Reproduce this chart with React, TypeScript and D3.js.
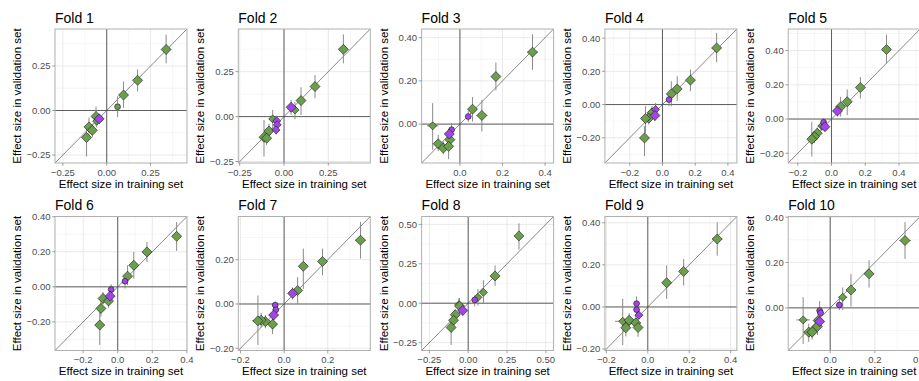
import React from 'react';
import * as d3 from 'd3';

// [training effect, validation effect, validation CI low, validation CI high, training CI half-width, group, shape]
type Pt = [number, number, number, number, number, 'g' | 'p', 'D' | 'd' | 'c'];

const fold1: Pt[] = [
  [0.339, 0.343, 0.265, 0.426, 0.025, 'g', 'D'],
  [0.176, 0.170, 0.107, 0.231, 0.02, 'g', 'D'],
  [0.096, 0.087, 0.015, 0.163, 0.02, 'g', 'D'],
  [0.062, 0.021, -0.038, 0.080, 0.015, 'g', 'c'],
  [-0.061, -0.033, -0.085, 0.022, 0.02, 'g', 'D'],
  [-0.057, -0.060, -0.095, -0.025, 0.02, 'g', 'd'],
  [-0.043, -0.047, -0.075, -0.018, 0.02, 'p', 'D'],
  [-0.101, -0.092, -0.135, -0.040, 0.02, 'g', 'D'],
  [-0.082, -0.111, -0.150, -0.075, 0.02, 'g', 'D'],
  [-0.115, -0.152, -0.258, -0.098, 0.02, 'g', 'D'],
];

const fold2: Pt[] = [
  [0.335, 0.374, 0.296, 0.457, 0.025, 'g', 'D'],
  [0.175, 0.167, 0.102, 0.231, 0.02, 'g', 'D'],
  [0.096, 0.089, 0.009, 0.163, 0.02, 'g', 'D'],
  [0.062, 0.037, -0.015, 0.080, 0.02, 'g', 'd'],
  [0.040, 0.052, 0.009, 0.093, 0.02, 'p', 'D'],
  [-0.064, -0.013, -0.074, 0.037, 0.02, 'g', 'd'],
  [-0.041, -0.024, -0.055, 0.005, 0.02, 'p', 'd'],
  [-0.038, -0.046, -0.075, -0.015, 0.02, 'p', 'd'],
  [-0.045, -0.074, -0.100, -0.045, 0.02, 'p', 'd'],
  [-0.085, -0.080, -0.120, -0.040, 0.02, 'g', 'D'],
  [-0.113, -0.115, -0.222, -0.019, 0.02, 'g', 'D'],
  [-0.098, -0.120, -0.160, -0.080, 0.02, 'g', 'D'],
];

const fold3: Pt[] = [
  [0.341, 0.333, 0.251, 0.416, 0.025, 'g', 'D'],
  [0.169, 0.220, 0.156, 0.285, 0.02, 'g', 'D'],
  [0.059, 0.069, 0.012, 0.125, 0.02, 'g', 'D'],
  [0.103, 0.040, -0.034, 0.112, 0.026, 'g', 'D'],
  [0.039, 0.035, 0.010, 0.060, 0.015, 'p', 'c'],
  [-0.128, -0.008, -0.119, 0.097, 0.027, 'g', 'd'],
  [-0.039, -0.026, -0.050, 0.005, 0.015, 'p', 'c'],
  [-0.050, -0.046, -0.070, -0.020, 0.02, 'p', 'D'],
  [-0.047, -0.072, -0.100, -0.040, 0.02, 'g', 'D'],
  [-0.102, -0.091, -0.125, -0.050, 0.02, 'g', 'D'],
  [-0.078, -0.111, -0.140, -0.080, 0.02, 'g', 'D'],
  [-0.053, -0.103, -0.162, -0.057, 0.02, 'g', 'D'],
];

const fold4: Pt[] = [
  [0.331, 0.341, 0.255, 0.432, 0.025, 'g', 'D'],
  [0.171, 0.147, 0.080, 0.211, 0.02, 'g', 'D'],
  [0.090, 0.094, 0.020, 0.171, 0.02, 'g', 'D'],
  [0.054, 0.064, -0.010, 0.140, 0.02, 'g', 'D'],
  [0.040, 0.030, -0.010, 0.060, 0.015, 'p', 'c'],
  [-0.042, -0.030, -0.070, 0.010, 0.02, 'p', 'd'],
  [-0.046, -0.066, -0.100, -0.040, 0.02, 'p', 'D'],
  [-0.064, -0.050, -0.090, -0.010, 0.02, 'g', 'D'],
  [-0.084, -0.082, -0.120, -0.040, 0.02, 'g', 'D'],
  [-0.104, -0.084, -0.171, -0.010, 0.02, 'g', 'D'],
  [-0.110, -0.201, -0.311, -0.131, 0.02, 'g', 'D'],
];

const fold5: Pt[] = [
  [0.326, 0.406, 0.324, 0.493, 0.025, 'g', 'D'],
  [0.171, 0.184, 0.120, 0.245, 0.02, 'g', 'D'],
  [0.093, 0.101, 0.023, 0.173, 0.02, 'g', 'D'],
  [0.054, 0.072, 0.014, 0.130, 0.02, 'g', 'D'],
  [0.035, 0.047, 0.014, 0.082, 0.02, 'p', 'D'],
  [-0.047, -0.019, -0.040, 0.005, 0.015, 'p', 'c'],
  [-0.039, -0.045, -0.070, -0.020, 0.02, 'p', 'D'],
  [-0.058, -0.041, -0.070, -0.010, 0.02, 'g', 'd'],
  [-0.085, -0.083, -0.120, -0.050, 0.02, 'g', 'D'],
  [-0.101, -0.103, -0.140, -0.070, 0.02, 'g', 'D'],
  [-0.117, -0.118, -0.219, -0.016, 0.02, 'g', 'D'],
];

const fold6: Pt[] = [
  [0.341, 0.288, 0.205, 0.369, 0.025, 'g', 'D'],
  [0.169, 0.199, 0.142, 0.256, 0.02, 'g', 'D'],
  [0.093, 0.123, 0.047, 0.199, 0.02, 'g', 'D'],
  [0.057, 0.061, 0.009, 0.123, 0.02, 'g', 'D'],
  [0.042, 0.032, -0.010, 0.066, 0.015, 'p', 'c'],
  [-0.038, -0.015, -0.040, 0.015, 0.015, 'p', 'c'],
  [-0.044, -0.053, -0.080, -0.020, 0.02, 'p', 'D'],
  [-0.085, -0.066, -0.100, -0.030, 0.02, 'g', 'D'],
  [-0.053, -0.081, -0.120, -0.040, 0.02, 'g', 'D'],
  [-0.097, -0.123, -0.170, -0.070, 0.02, 'g', 'D'],
  [-0.104, -0.218, -0.331, -0.142, 0.028, 'g', 'D'],
];

const fold7: Pt[] = [
  [0.350, 0.288, 0.205, 0.371, 0.025, 'g', 'D'],
  [0.176, 0.192, 0.129, 0.250, 0.02, 'g', 'D'],
  [0.088, 0.170, 0.068, 0.250, 0.02, 'g', 'D'],
  [0.062, 0.061, 0.000, 0.121, 0.02, 'g', 'D'],
  [0.039, 0.048, 0.020, 0.075, 0.02, 'p', 'D'],
  [-0.041, -0.005, -0.020, 0.010, 0.015, 'p', 'c'],
  [-0.038, -0.026, -0.045, -0.005, 0.015, 'p', 'c'],
  [-0.048, -0.050, -0.075, -0.025, 0.02, 'p', 'D'],
  [-0.053, -0.091, -0.136, -0.045, 0.02, 'g', 'D'],
  [-0.086, -0.079, -0.110, -0.050, 0.02, 'g', 'D'],
  [-0.105, -0.073, -0.105, -0.040, 0.02, 'g', 'D'],
  [-0.120, -0.076, -0.185, 0.038, 0.027, 'g', 'D'],
];

const fold8: Pt[] = [
  [0.327, 0.427, 0.340, 0.506, 0.025, 'g', 'D'],
  [0.173, 0.173, 0.110, 0.240, 0.02, 'g', 'D'],
  [0.098, 0.069, -0.004, 0.146, 0.02, 'g', 'd'],
  [0.063, 0.037, -0.015, 0.090, 0.02, 'g', 'd'],
  [0.042, 0.021, -0.020, 0.050, 0.015, 'p', 'c'],
  [-0.060, -0.010, -0.040, 0.030, 0.02, 'g', 'd'],
  [-0.056, -0.018, -0.067, 0.033, 0.02, 'g', 'D'],
  [-0.035, -0.046, -0.080, -0.015, 0.02, 'p', 'D'],
  [-0.083, -0.073, -0.110, -0.040, 0.02, 'g', 'D'],
  [-0.094, -0.108, -0.150, -0.070, 0.02, 'g', 'D'],
  [-0.110, -0.154, -0.265, -0.098, 0.02, 'g', 'D'],
];

const fold9: Pt[] = [
  [0.335, 0.323, 0.244, 0.402, 0.025, 'g', 'D'],
  [0.173, 0.169, 0.102, 0.228, 0.02, 'g', 'D'],
  [0.091, 0.115, 0.039, 0.197, 0.02, 'g', 'D'],
  [-0.121, -0.068, -0.181, 0.039, 0.037, 'g', 'd'],
  [-0.090, -0.063, -0.100, -0.030, 0.02, 'g', 'D'],
  [-0.106, -0.099, -0.140, -0.060, 0.02, 'g', 'D'],
  [-0.058, -0.076, -0.110, -0.040, 0.02, 'g', 'D'],
  [-0.047, -0.098, -0.142, -0.050, 0.02, 'g', 'D'],
  [-0.054, 0.016, -0.010, 0.050, 0.015, 'p', 'c'],
  [-0.054, -0.013, -0.035, 0.010, 0.015, 'p', 'c'],
  [-0.043, -0.039, -0.060, -0.020, 0.02, 'p', 'd'],
];

const fold10: Pt[] = [
  [0.335, 0.297, 0.216, 0.378, 0.025, 'g', 'D'],
  [0.174, 0.150, 0.090, 0.210, 0.02, 'g', 'D'],
  [0.093, 0.079, 0.006, 0.150, 0.02, 'g', 'D'],
  [0.056, 0.047, -0.010, 0.090, 0.02, 'g', 'd'],
  [0.041, 0.013, -0.010, 0.040, 0.015, 'p', 'c'],
  [-0.121, -0.053, -0.159, 0.047, 0.03, 'g', 'd'],
  [-0.054, -0.056, -0.090, -0.020, 0.02, 'g', 'D'],
  [-0.057, -0.082, -0.120, -0.050, 0.02, 'g', 'D'],
  [-0.096, -0.107, -0.150, -0.070, 0.02, 'g', 'D'],
  [-0.081, -0.107, -0.140, -0.080, 0.02, 'g', 'D'],
  [-0.047, -0.012, -0.030, 0.030, 0.015, 'p', 'c'],
  [-0.043, -0.022, -0.040, 0.000, 0.015, 'p', 'c'],
  [-0.047, -0.060, -0.085, -0.035, 0.02, 'p', 'D'],
];

const FOLD_DATA: Pt[][] = [fold1, fold2, fold3, fold4, fold5, fold6, fold7, fold8, fold9, fold10];
const FOLD_TITLES = ['Fold 1', 'Fold 2', 'Fold 3', 'Fold 4', 'Fold 5', 'Fold 6', 'Fold 7', 'Fold 8', 'Fold 9', 'Fold 10'];
// Shared x/y limits of each fold (the identity line runs corner to corner)
const FOLD_LIMITS: [number, number][] = [
  [-0.295, 0.458], [-0.258, 0.487], [-0.18, 0.44], [-0.352, 0.455], [-0.257, 0.526],
  [-0.363, 0.401], [-0.21, 0.395], [-0.30, 0.55], [-0.207, 0.43], [-0.188, 0.403],
];
const FOLD_BREAK_STEPS = [0.25, 0.25, 0.2, 0.2, 0.2, 0.2, 0.2, 0.25, 0.2, 0.2];

const X_TITLE = 'Effect size in training set';
const Y_TITLE = 'Effect size in validation set';

const W = 919;
const H = 381;
const PW = 132;
const PH = 134;
const COL_STEP = 183.3;
const ROW_STEP = 187.5;
const FONT = '"Liberation Sans", Arial, Helvetica, sans-serif';
const GREEN = '#6b9f4d';
const PURPLE = '#a245e8';

function Panel({ idx }: { idx: number }) {
  const col = idx % 5;
  const row = Math.floor(idx / 5);
  const left = 55 + col * COL_STEP;
  const top = 29 + row * ROW_STEP;
  const [lo, hi] = FOLD_LIMITS[idx];
  const step = FOLD_BREAK_STEPS[idx];
  const x = d3.scaleLinear().domain([lo, hi]).range([left, left + PW]);
  const y = d3.scaleLinear().domain([lo, hi]).range([top + PH, top]);

  const majors = d3
    .range(Math.ceil(lo / step - 1e-9), Math.floor(hi / step + 1e-9) + 1)
    .map((k) => +(k * step).toFixed(4));
  const minors = d3
    .range(Math.floor(lo / step) - 1, Math.ceil(hi / step) + 1)
    .map((k) => (k + 0.5) * step)
    .filter((v) => v > lo && v < hi);

  const fmtY = d3.format('.2f');
  const fmtX = step === 0.2 ? d3.format('.1f') : d3.format('.2f');
  const clipId = `clip-${idx}`;
  const data = FOLD_DATA[idx];
  const ordered = [...data.filter((d) => d[5] === 'g'), ...data.filter((d) => d[5] === 'p')];

  const markPath = (d: Pt) => {
    const cx = x(d[0]);
    const cy = y(d[1]);
    const s = d[6] === 'D' ? 5 : 4;
    return `M${cx},${cy - s}L${cx + s},${cy}L${cx},${cy + s}L${cx - s},${cy}Z`;
  };

  return (
    <g>
      <defs>
        <clipPath id={clipId}>
          <rect x={left} y={top} width={PW} height={PH} />
        </clipPath>
      </defs>
      <rect x={left} y={top} width={PW} height={PH} fill="#ffffff" />
      {minors.map((v) => (
        <g key={`mn${v}`}>
          <line x1={x(v)} x2={x(v)} y1={top} y2={top + PH} stroke="#f0f0f0" strokeWidth={0.6} />
          <line x1={left} x2={left + PW} y1={y(v)} y2={y(v)} stroke="#f0f0f0" strokeWidth={0.6} />
        </g>
      ))}
      {majors.map((v) => (
        <g key={`mj${v}`}>
          <line x1={x(v)} x2={x(v)} y1={top} y2={top + PH} stroke="#e3e3e3" strokeWidth={0.8} />
          <line x1={left} x2={left + PW} y1={y(v)} y2={y(v)} stroke="#e3e3e3" strokeWidth={0.8} />
        </g>
      ))}
      <g clipPath={`url(#${clipId})`}>
        <line x1={x(0)} x2={x(0)} y1={top} y2={top + PH} stroke="#3a3a3a" strokeWidth={0.8} />
        <line x1={left} x2={left + PW} y1={y(0)} y2={y(0)} stroke="#3a3a3a" strokeWidth={0.8} />
        <line x1={x(lo)} y1={y(lo)} x2={x(hi)} y2={y(hi)} stroke="#555555" strokeWidth={0.7} />
        {data.map((d, i) => (
          <g key={`eb${i}`} stroke="#8a8a8a" strokeWidth={1}>
            <line x1={x(d[0])} x2={x(d[0])} y1={y(d[2])} y2={y(d[3])} />
            <line x1={x(d[0] - d[4])} x2={x(d[0] + d[4])} y1={y(d[1])} y2={y(d[1])} />
          </g>
        ))}
        {ordered.map((d, i) =>
          d[6] === 'c' ? (
            <circle
              key={`pt${i}`}
              cx={x(d[0])}
              cy={y(d[1])}
              r={2.9}
              fill={d[5] === 'g' ? GREEN : PURPLE}
              stroke="#1a1a1a"
              strokeWidth={0.6}
            />
          ) : (
            <path
              key={`pt${i}`}
              d={markPath(d)}
              fill={d[5] === 'g' ? GREEN : PURPLE}
              stroke="#1a1a1a"
              strokeWidth={0.6}
            />
          )
        )}
      </g>
      <rect x={left} y={top} width={PW} height={PH} fill="none" stroke="#b0b0b0" strokeWidth={1} />
      {majors.map((v) => (
        <g key={`tk${v}`}>
          <line x1={left - 2.8} x2={left} y1={y(v)} y2={y(v)} stroke="#777" strokeWidth={0.7} />
          <text
            x={left - 4.5}
            y={y(v) + 3.4}
            textAnchor="end"
            fontSize={9.5}
            fill="#4d4d4d"
            fontFamily={FONT}
          >
            {fmtY(v)}
          </text>
          <line x1={x(v)} x2={x(v)} y1={top + PH} y2={top + PH + 2.8} stroke="#777" strokeWidth={0.7} />
          <text
            x={x(v)}
            y={top + PH + 12.5}
            textAnchor="middle"
            fontSize={9.5}
            fill="#4d4d4d"
            fontFamily={FONT}
          >
            {fmtX(v)}
          </text>
        </g>
      ))}
      <text x={left} y={top - 6.5} fontSize={14} fill="#000" fontFamily={FONT}>
        {FOLD_TITLES[idx]}
      </text>
      <text
        x={left + PW / 2}
        y={top + PH + 24.5}
        textAnchor="middle"
        fontSize={11.5}
        fill="#000"
        fontFamily={FONT}
      >
        {X_TITLE}
      </text>
      <text
        transform={`translate(${left - 34},${top + PH / 2}) rotate(-90)`}
        textAnchor="middle"
        fontSize={11.5}
        fill="#000"
        fontFamily={FONT}
      >
        {Y_TITLE}
      </text>
    </g>
  );
}

export default function App() {
  return (
    <svg
      width={W}
      height={H}
      viewBox={`0 0 ${W} ${H}`}
      style={{ position: 'absolute', left: 0, top: 0, background: '#fff' }}
    >
      <rect width={W} height={H} fill="#fff" />
      {FOLD_TITLES.map((_, i) => (
        <Panel key={i} idx={i} />
      ))}
    </svg>
  );
}
